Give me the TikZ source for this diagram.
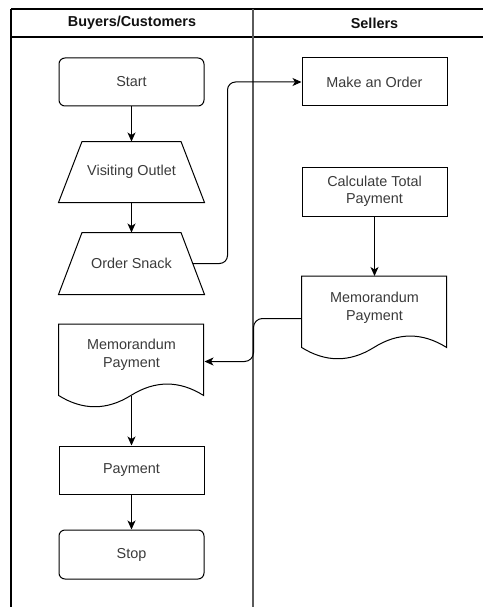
\documentclass[tikz,border=0pt]{standalone}
\usepackage{fontspec}
\setmainfont{Liberation Sans}
\usetikzlibrary{arrows.meta,calc}
\definecolor{txt}{HTML}{3A3A3A}
\definecolor{head}{HTML}{111111}
\definecolor{lane}{HTML}{5A5A5A}

\tikzset{
  box/.style={draw=black, line width=1pt, minimum width=145pt, minimum height=48pt,
    inner sep=2pt, text=txt, align=center, font=\fontsize{14.4}{17.5}\selectfont},
  roundbox/.style={box, rounded corners=6pt},
  bare/.style={box, draw=none},
  flow/.style={draw=black, line width=1pt, -{Stealth[length=9pt,width=8pt,inset=2.5pt]}},
  outline/.style={draw=black, line width=1pt},
  header/.style={text=head, font=\fontsize{14.4}{17}\selectfont\bfseries},
}

% document outline (wavy bottom) hung from the north-west corner of a node
\newcommand{\docoutline}[1]{%
  \begin{scope}[shift={(#1.north west)}]
    \draw[outline] (0,0) -- (145,0) -- (145,71.4)
      .. controls (120.83,56.27) and (96.67,56.27) .. (72.5,71.4)
      .. controls (48.33,86.52) and (24.17,86.52) .. (0,71.4) -- cycle;
  \end{scope}}

% trapezoid outline around a node, narrower at the top
\newcommand{\trapoutline}[1]{%
  \draw[outline] (#1.south west) -- (#1.south east)
    -- ([xshift=-23.5pt]#1.north east) -- ([xshift=23.5pt]#1.north west) -- cycle;}

\begin{document}
\begin{tikzpicture}[x=1pt,y=-1pt]
\useasboundingbox (0,0) rectangle (483,607);

% swimlane frame
\draw[black, line width=1.2pt] (11,9) -- (483,9);
\draw[black, line width=1.2pt] (11,37) -- (483,37);
\draw[black, line width=1.2pt] (11,9) -- (11,607);
\draw[lane, line width=1.6pt] (253,9) -- (253,607);
\node[header] (laneB) at (132,23) {Buyers/Customers};
\node[header] (laneS) at (374.5,23) {Sellers};

% buyers lane
\node[roundbox] (start) at (131.5,82) {Start};
\node[bare, minimum height=60pt] (vo) at (131.5,172) {Visiting Outlet};
\trapoutline{vo}
\node[bare, minimum height=61pt] (os) at (131.5,263.5) {Order Snack};
\trapoutline{os}
\node[bare, minimum height=61pt, anchor=north] (ml) at (131.5,324) {Memorandum\\Payment};
\docoutline{ml}
\node[box] (pay) at (131.5,470) {Payment};
\node[roundbox, minimum height=49pt] (stop) at (131.5,554.5) {Stop};

% sellers lane
\node[box] (mo) at (374.5,82) {Make an Order};
\node[box, minimum height=49pt] (ctp) at (374.5,191.5) {Calculate Total\\Payment};
\node[bare, minimum height=63pt, anchor=north] (mr) at (374.5,276) {Memorandum\\Payment};
\docoutline{mr}

% connectors
\draw[flow] (start.south) -- (vo.north);
\draw[flow] (vo.south) -- (os.north);
\draw[flow, rounded corners=8pt] ([xshift=-11.75pt]os.east) -| ($(mo.west)+(-74,0)$) -- (mo.west);
\draw[flow] (ctp.south) -- (mr.north);
\draw[flow, rounded corners=9pt] ([yshift=-10.5pt]mr.west) -| ($(ml.east)+(49,6.5)$) -- ([yshift=-6.5pt]ml.east);
\draw[flow] ([yshift=-10.4pt]ml.south) -- (pay.north);
\draw[flow] (pay.south) -- (stop.north);
\end{tikzpicture}
\end{document}
